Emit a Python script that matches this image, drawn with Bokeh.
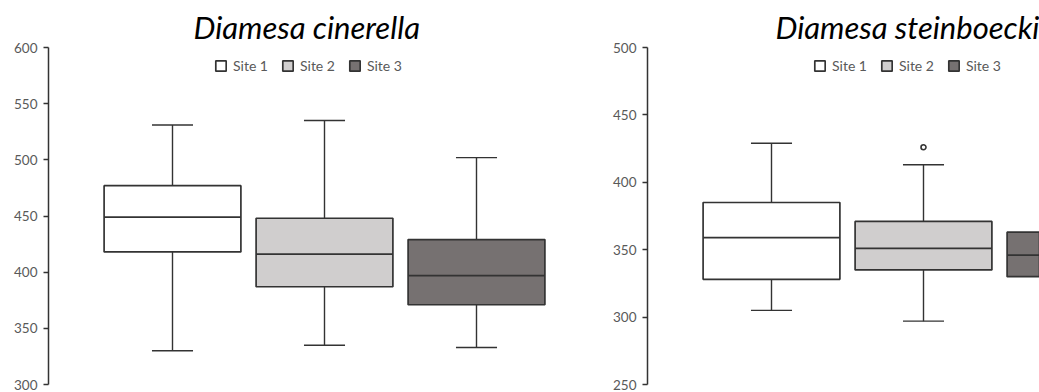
from bokeh.plotting import figure
from bokeh.layouts import row
from bokeh.models import Range1d, SingleIntervalTicker, Legend, LegendItem
from bokeh.embed import file_html
from bokeh.resources import INLINE

# ---- data ----
sites = ["Site 1", "Site 2", "Site 3"]
site_colors = ["#FFFFFF", "#D0CECE", "#767171"]

cin_lower = [330, 335, 333]
cin_q1 = [418, 387, 371]
cin_median = [449, 416, 397]
cin_q3 = [477, 448, 429]
cin_upper = [531, 535, 502]
cin_outlier_site = []
cin_outlier_value = []

ste_lower = [305, 297, 302]
ste_q1 = [328, 335, 330]
ste_median = [359, 351, 346]
ste_q3 = [385, 371, 363]
ste_upper = [429, 413, 396]
ste_outlier_site = ["Site 2"]
ste_outlier_value = [426]

BOX_W = 0.9
CAP_W = 0.27
LINE = "#333333"
FONT = "Lato"
TOP = 47
FRAME_H = 337
HEIGHT = 392


def make_panel(title, lower, q1, med, q3, upper, out_site, out_val,
               y0, y1, width, left_border, frame_px, title_offset):
    px_per_unit = 152.0
    x_start = 1 - 124.0 / px_per_unit
    x_end = x_start + frame_px / px_per_unit
    p = figure(width=width, height=HEIGHT, output_backend="svg", toolbar_location=None,
               x_range=Range1d(x_start, x_end), y_range=Range1d(y0, y1),
               min_border_left=left_border, min_border_right=width - left_border - frame_px,
               min_border_top=TOP, min_border_bottom=HEIGHT - TOP - FRAME_H)
    p.outline_line_color = None
    p.xgrid.visible = False
    p.ygrid.visible = False
    p.xaxis.visible = False
    p.background_fill_color = "white"
    p.border_fill_color = "white"

    pos = [sites.index(s) + 1 for s in sites]
    # whiskers
    p.segment(x0=pos, y0=q3, x1=pos, y1=upper, line_color=LINE, line_width=1.4)
    p.segment(x0=pos, y0=q1, x1=pos, y1=lower, line_color=LINE, line_width=1.4)
    p.segment(x0=[x - CAP_W / 2 for x in pos], y0=upper, x1=[x + CAP_W / 2 for x in pos], y1=upper,
              line_color=LINE, line_width=1.4)
    p.segment(x0=[x - CAP_W / 2 for x in pos], y0=lower, x1=[x + CAP_W / 2 for x in pos], y1=lower,
              line_color=LINE, line_width=1.4)
    items = []
    for i, s in enumerate(sites):
        r = p.vbar(x=[pos[i]], bottom=[q1[i]], top=[q3[i]], width=BOX_W,
                   fill_color=site_colors[i], line_color=LINE, line_width=1.7)
        items.append(LegendItem(label=s, renderers=[r]))
    p.segment(x0=[x - BOX_W / 2 for x in pos], y0=med, x1=[x + BOX_W / 2 for x in pos], y1=med,
              line_color=LINE, line_width=1.7)
    if out_site:
        p.scatter(x=[sites.index(s) + 1 for s in out_site], y=out_val, size=5,
                  fill_color="white", line_color=LINE, line_width=1.6)

    legend = Legend(items=items, orientation="horizontal",
                    location=(166, FRAME_H + TOP - 74),
                    padding=0, margin=0, spacing=13, label_standoff=6,
                    glyph_width=13, glyph_height=13, label_height=13,
                    label_text_font=FONT, label_text_font_size="14px",
                    label_text_color="#595959", border_line_color=None,
                    background_fill_alpha=0)
    p.add_layout(legend, "center")

    yax = p.yaxis[0]
    yax.ticker = SingleIntervalTicker(interval=50)
    yax.major_tick_in = 0
    yax.major_tick_out = 5
    yax.minor_tick_line_color = None
    yax.axis_line_color = LINE
    yax.axis_line_width = 1.5
    yax.major_tick_line_color = LINE
    yax.major_tick_line_width = 1.5
    yax.major_label_text_font = FONT
    yax.major_label_text_font_size = "13.5px"
    yax.major_label_text_color = "#595959"
    yax.major_label_standoff = 6

    p.title.text = title
    p.title.text_font = FONT
    p.title.text_font_style = "italic"
    p.title.text_font_size = "31px"
    p.title.text_color = "black"
    p.title.align = "left"
    p.title.offset = title_offset
    p.title.standoff = 4
    return p


left = make_panel("Diamesa cinerella", cin_lower, cin_q1, cin_median, cin_q3, cin_upper,
                  cin_outlier_site, cin_outlier_value, 300, 600,
                  width=600, left_border=48, frame_px=551, title_offset=145)
right = make_panel("Diamesa steinboecki", ste_lower, ste_q1, ste_median, ste_q3, ste_upper,
                   ste_outlier_site, ste_outlier_value, 250, 500,
                   width=439, left_border=47, frame_px=392, title_offset=128)

layout = row(left, right, spacing=0)
open("out.html", "w").write(file_html(layout, INLINE))
